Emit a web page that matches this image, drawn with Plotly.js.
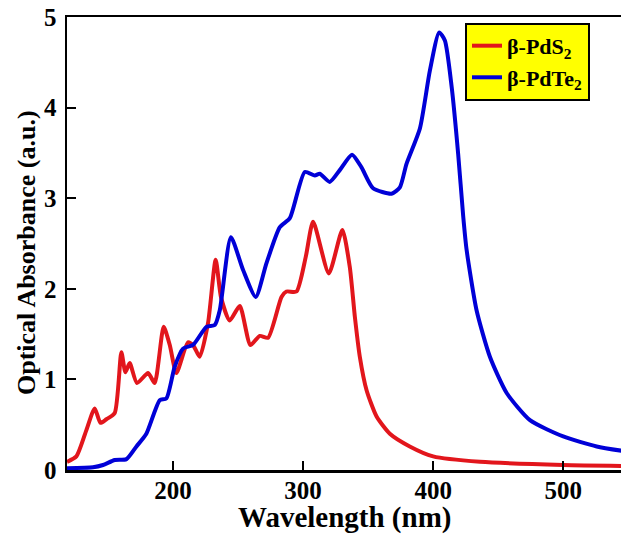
<!DOCTYPE html>
<html>
<head>
<meta charset="utf-8">
<script src="https://cdn.plot.ly/plotly-3.0.1.min.js"></script>
<style>html,body{margin:0;padding:0;overflow:hidden;background:#fff}#chart{width:640px;height:534px}</style>
</head>
<body>
<div id="chart"></div>
<script>
// Wavelength (nm) and optical absorbance (a.u.)
const pds2Wavelength = [118.5,125.7,133.4,139.8,144.2,148.8,155.2,160.3,163.4,166.7,172.3,180.8,185.9,192.8,197.5,202.6,211.5,215.4,220.5,226.9,232.8,237,243.6,251.3,259.5,266.7,273.1,283.4,287.2,294.9,302,307.7,319.8,330.2,335.9,339.8,343.6,348.8,356.5,366.7,382,400,436,500,546];
const pds2Absorbance = [0.09,0.15,0.44,0.68,0.52,0.56,0.63,1.30,1.08,1.18,0.96,1.07,0.96,1.58,1.38,1.07,1.41,1.38,1.25,1.62,2.32,1.90,1.65,1.81,1.38,1.48,1.46,1.91,1.97,1.97,2.35,2.74,2.17,2.65,2.24,1.69,1.25,0.88,0.59,0.40,0.26,0.15,0.09,0.055,0.045];

const pdte2Wavelength = [118.5,138.5,146.2,155.2,164.2,171.9,179.5,189.8,194.9,201.3,207.7,215.4,225.7,232.1,235.9,244.5,253.8,263.6,271.8,282.1,289.8,301.3,309,312.8,320.5,328.2,337.6,344.9,353.8,368,374.4,379.5,389.8,397.5,404.6,409,414.2,419.2,423.1,425.7,433.4,443.6,456.5,474.4,500,525.7,546];
const pdte2Absorbance = [0.02,0.03,0.055,0.11,0.12,0.26,0.40,0.77,0.79,1.14,1.34,1.38,1.58,1.60,1.76,2.57,2.21,1.91,2.28,2.68,2.78,3.29,3.25,3.27,3.18,3.31,3.48,3.34,3.11,3.05,3.12,3.38,3.77,4.41,4.83,4.74,4.23,3.49,2.80,2.43,1.76,1.25,0.85,0.55,0.37,0.26,0.21];

const seriesNames = ["β-PdS<sub>2</sub>", "β-PdTe<sub>2</sub>"];
const xTickValues = [200,300,400,500];
const yTickValues = [0,1,2,3,4,5];
const xTitle = "Wavelength (nm)";
const yTitle = "Optical Absorbance (a.u.)";

const serif = "Liberation Serif, Times New Roman, serif";

const traces = [
  {x: pds2Wavelength, y: pds2Absorbance, name: seriesNames[0], type: "scatter", mode: "lines",
   line: {color: "rgb(226,22,28)", width: 4, shape: "spline", smoothing: 0.6}},
  {x: pdte2Wavelength, y: pdte2Absorbance, name: seriesNames[1], type: "scatter", mode: "lines",
   line: {color: "rgb(0,0,215)", width: 4, shape: "spline", smoothing: 0.6}}
];

const layout = {
  width: 640, height: 534,
  margin: {l: 67, r: 16, t: 17, b: 64, autoexpand: false},
  paper_bgcolor: "#fff", plot_bgcolor: "#fff",
  font: {family: serif, color: "#000"},
  showlegend: true,
  legend: {
    x: 0.7145, y: 0.987, xanchor: "left", yanchor: "top",
    bgcolor: "rgb(255,255,0)", bordercolor: "#000", borderwidth: 2,
    font: {family: serif, size: 22, color: "#000", weight: "bold"}
  },
  xaxis: {
    range: [118.5, 546.7], tickvals: xTickValues, ticktext: xTickValues.map(String),
    ticks: "inside", ticklen: 9, tickwidth: 2, tickcolor: "#000",
    showline: true, linewidth: 2.5, linecolor: "#000", mirror: true,
    showgrid: false, zeroline: false, ticklabelstandoff: -4,
    tickfont: {family: serif, size: 25, color: "#000", weight: "bold"}
  },
  yaxis: {
    range: [0, 5], tickvals: yTickValues, ticktext: yTickValues.map(String),
    ticks: "inside", ticklen: 9, tickwidth: 2, tickcolor: "#000",
    showline: true, linewidth: 2.5, linecolor: "#000", mirror: true,
    showgrid: false, zeroline: false, ticklabelstandoff: 3,
    tickfont: {family: serif, size: 25, color: "#000", weight: "bold"}
  },
  annotations: [
    {text: xTitle, xref: "paper", yref: "paper", x: 0.499, y: -0.104, xanchor: "center", yanchor: "middle",
     showarrow: false, font: {family: serif, size: 29, color: "#000", weight: "bold"}},
    {text: yTitle, xref: "paper", yref: "paper", x: -0.0736, y: 0.479, xanchor: "center", yanchor: "middle",
     textangle: -90, showarrow: false, font: {family: serif, size: 26, color: "#000", weight: "bold"}}
  ]
};

Plotly.newPlot("chart", traces, layout, {displayModeBar: false, staticPlot: true});
</script>
</body>
</html>
